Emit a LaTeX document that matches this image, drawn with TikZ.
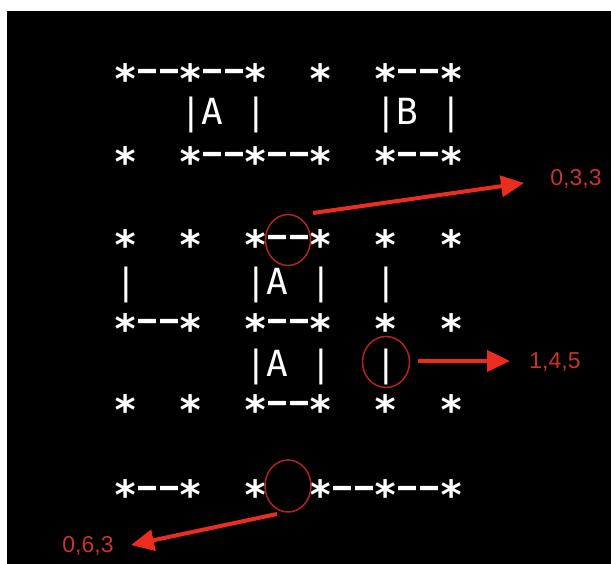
\documentclass[tikz,border=0pt]{standalone}
\usepackage{fontspec}
\usetikzlibrary{arrows.meta,shapes.geometric}
\newfontfamily\asciifont{DejaVu Sans Mono}
\newfontfamily\labelfont{Liberation Sans}
\definecolor{arrowred}{RGB}{236,44,30}
\definecolor{ringred}{RGB}{178,36,30}
\definecolor{labelred}{RGB}{200,52,40}
% one cell of the ASCII grid each (cell width = 0.602em in DejaVu Sans Mono)
\newcommand\sk{\makebox[0.60205em][c]{\smash{\raisebox{-0.31em}{\bfseries\scalebox{1.12}{*}}}}}
\newcommand\dk{\makebox[0.60205em][c]{\bfseries\resizebox{0.5em}{\height}{–}}}
\newcommand\bk{\hphantom{0}}
\tikzset{
  asciirow/.style={anchor=base west, inner sep=0pt, outer sep=0pt, text=white,
    font=\asciifont\fontsize{36}{36}\selectfont},
  ring/.style={draw=ringred, line width=1.5pt, ellipse, inner sep=0pt},
  callout/.style={draw=arrowred, line width=4pt,
    -{Triangle[length=23pt,width=21pt]}},
  tag/.style={anchor=base, inner sep=0pt, text=labelred,
    font=\labelfont\fontsize{23}{23}\selectfont}
}
\begin{document}
\begin{tikzpicture}[x=1pt,y=-1pt]
  \path[use as bounding box, fill=white] (0,0) rectangle (611,564);
  \fill[black] (7,11) rectangle (611,564);

  % maze rows (star rows: baseline = centre + 10, letter rows: centre + 13)
  \node[asciirow] (r1) at (115.2,82)  {\sk\dk\dk\sk\dk\dk\sk\bk\bk\sk\bk\bk\sk\dk\dk\sk};
  \node[asciirow] (r2) at (115.2,125) {\bk\bk\bk|A\bk|\bk\bk\bk\bk\bk|B\bk|};
  \node[asciirow] (r3) at (115.2,165) {\sk\bk\bk\sk\dk\dk\sk\dk\dk\sk\bk\bk\sk\dk\dk\sk};

  \node[asciirow] (r4) at (115.2,248) {\sk\bk\bk\sk\bk\bk\sk\dk\dk\sk\bk\bk\sk\bk\bk\sk};
  \node[asciirow] (r5) at (115.2,295) {|\bk\bk\bk\bk\bk|A\bk|\bk\bk|};
  \node[asciirow] (r6) at (115.2,332) {\sk\dk\dk\sk\bk\bk\sk\dk\dk\sk\bk\bk\sk\bk\bk\sk};
  \node[asciirow] (r7) at (115.2,376) {\bk\bk\bk\bk\bk\bk|A\bk|\bk\bk|};
  \node[asciirow] (r8) at (115.2,413) {\sk\bk\bk\sk\bk\bk\sk\dk\dk\sk\bk\bk\sk\bk\bk\sk};

  \node[asciirow] (r9) at (115.2,498) {\sk\dk\dk\sk\bk\bk\sk\bk\bk\sk\dk\dk\sk\dk\dk\sk};

  % highlighted walls
  \node[ring, minimum width=45pt, minimum height=51pt] (c1) at (288,240) {};
  \node[ring, minimum width=47pt, minimum height=51pt] (c2) at (386,362) {};
  \node[ring, minimum width=46pt, minimum height=52pt] (c3) at (288,486) {};

  % wall codes
  \node[tag] (t1) at (576,186) {0,3,3};
  \node[tag] (t2) at (555,369) {1,4,5};
  \node[tag] (t3) at (88,552)  {0,6,3};

  \coordinate (s1) at (313,213);
  \coordinate (e1) at (524,183);
  \coordinate (s2) at (418,361);
  \coordinate (e2) at (510,361);
  \coordinate (s3) at (277,514);
  \coordinate (e3) at (131,545);

  \draw[callout] (s1) -- (e1);
  \draw[callout] (s2) -- (e2);
  \draw[callout] (s3) -- (e3);
\end{tikzpicture}
\end{document}
